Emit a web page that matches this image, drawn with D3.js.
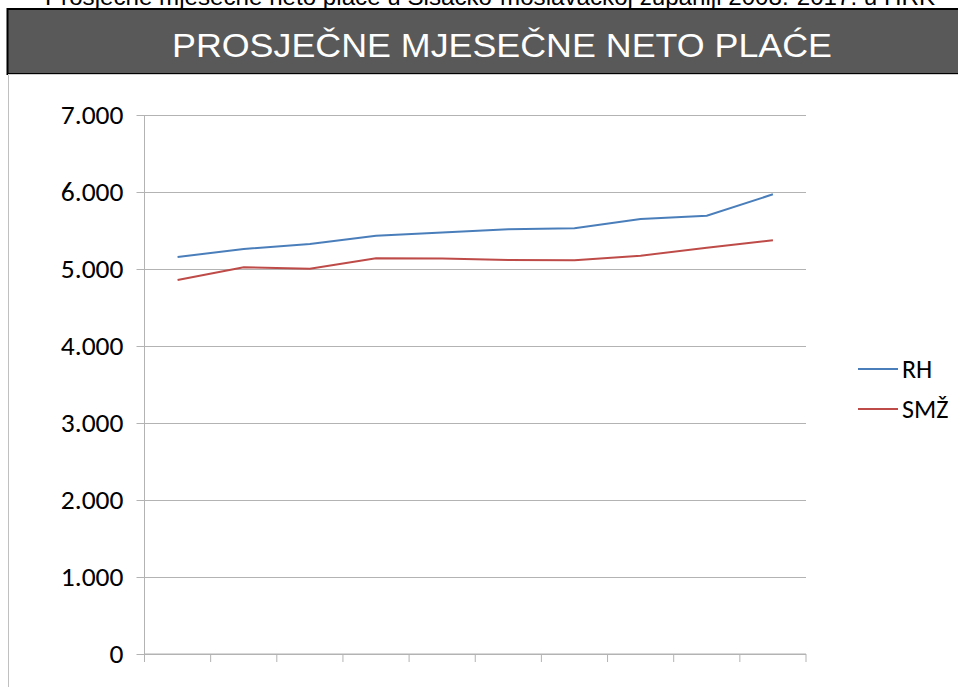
<!DOCTYPE html>
<html>
<head>
<meta charset="utf-8">
<script src="https://cdn.jsdelivr.net/npm/d3@7"></script>
<style>
  body { margin: 0; background: #fff; }
  svg { display: block; }
</style>
</head>
<body>
<div id="chart"></div>
<script>

// data
var years = ['2008', '2009', '2010', '2011', '2012', '2013', '2014', '2015', '2016', '2017'];
var rhValues = [5156, 5260, 5325, 5432, 5474, 5515, 5528, 5649, 5692, 5970];
var smzValues = [4857, 5022, 5004, 5139, 5137, 5117, 5113, 5173, 5277, 5372];
var seriesNames = ['RH', 'SMŽ'];
var yTicks = [0, 1000, 2000, 3000, 4000, 5000, 6000, 7000];

var attrs = {
  width: 958,
  height: 687,
  plotLeft: 144.5,
  plotRight: 806,
  plotTop: 115,
  plotBottom: 654,
  gridColor: '#b3b3b3',
  colors: ['#4a7ebb', '#be4b48'],
  labelFont: "Calibri, Carlito, 'Open Sans', sans-serif"
};

var svg = d3.select('#chart').append('svg')
  .attr('width', attrs.width)
  .attr('height', attrs.height);

// caption at the very top (cut off by the edge, as in the original)
svg.append('text')
  .attr('x', 490).attr('y', 5)
  .attr('text-anchor', 'middle')
  .attr('font-family', "'Liberation Sans', Arial, sans-serif")
  .attr('font-size', 24)
  .attr('fill', '#000')
  .attr('textLength', 890)
  .attr('lengthAdjust', 'spacingAndGlyphs')
  .text('Prosječne mjesečne neto plaće u Sisačko-moslavačkoj županiji 2008.-2017. u HRK');

// dark title banner
svg.append('rect')
  .attr('x', 7.5).attr('y', 9)
  .attr('width', attrs.width).attr('height', 65)
  .attr('fill', '#595959')
  .attr('stroke', '#000').attr('stroke-width', 2);

svg.append('text')
  .attr('x', 502).attr('y', 57)
  .attr('text-anchor', 'middle')
  .attr('font-family', "'Liberation Sans', Arial, sans-serif")
  .attr('font-size', 34)
  .attr('fill', '#fff')
  .attr('textLength', 660)
  .attr('lengthAdjust', 'spacingAndGlyphs')
  .text('PROSJEČNE MJESEČNE NETO PLAĆE');

// frame of the chart below the banner
svg.append('line')
  .attr('x1', 8.5).attr('x2', 8.5).attr('y1', 75).attr('y2', attrs.height)
  .attr('stroke', '#c0c0c0');
svg.append('line')
  .attr('x1', 8).attr('x2', attrs.width).attr('y1', 74.5).attr('y2', 74.5)
  .attr('stroke', '#d0d0d0');

// scales
var x = d3.scaleBand()
  .domain(years)
  .range([attrs.plotLeft, attrs.plotRight]);

var y = d3.scaleLinear()
  .domain([0, 7000])
  .range([attrs.plotBottom, attrs.plotTop]);

// gridlines + y axis
var yAxis = d3.axisLeft(y)
  .tickValues(yTicks)
  .tickSize(attrs.plotRight - attrs.plotLeft + 8)
  .tickPadding(13)
  .tickFormat(function (d) { return d === 0 ? '0' : d3.format(',')(d).replace(/,/g, '.'); });

var yG = svg.append('g')
  .attr('transform', 'translate(' + attrs.plotRight + ',0)')
  .call(yAxis);
yG.select('.domain').remove();
yG.selectAll('.tick line').attr('stroke', attrs.gridColor);
yG.selectAll('.tick text')
  .attr('font-family', attrs.labelFont)
  .attr('font-size', 27.5)
  .attr('fill', '#000');

// vertical axis line
svg.append('line')
  .attr('x1', attrs.plotLeft).attr('x2', attrs.plotLeft)
  .attr('y1', attrs.plotTop).attr('y2', attrs.plotBottom + 8)
  .attr('stroke', attrs.gridColor);

// x axis with tick marks between categories, no labels
var xAxis = d3.axisBottom(x).tickSize(8).tickFormat('');
var xG = svg.append('g')
  .attr('transform', 'translate(0,' + attrs.plotBottom + ')')
  .call(xAxis);
xG.selectAll('.tick').remove();
xG.select('.domain').attr('stroke', attrs.gridColor).attr('d',
  'M' + attrs.plotLeft + ',0H' + attrs.plotRight);
xG.selectAll('.sep')
  .data(years)
  .enter().append('line')
  .attr('class', 'sep')
  .attr('x1', function (d) { return x(d) + x.bandwidth(); })
  .attr('x2', function (d) { return x(d) + x.bandwidth(); })
  .attr('y1', 0).attr('y2', 8)
  .attr('stroke', attrs.gridColor);

// lines
var line = d3.line()
  .x(function (d, i) { return x(years[i]) + x.bandwidth() / 2; })
  .y(function (d) { return y(d); });

[rhValues, smzValues].forEach(function (vals, i) {
  svg.append('path')
    .datum(vals)
    .attr('fill', 'none')
    .attr('stroke', attrs.colors[i])
    .attr('stroke-width', 2)
    .attr('d', line);
});

// legend
var legend = svg.append('g').selectAll('g')
  .data(seriesNames)
  .enter().append('g')
  .attr('transform', function (d, i) { return 'translate(858,' + (369 + i * 40) + ')'; });

legend.append('line')
  .attr('x1', 0).attr('x2', 40)
  .attr('stroke', function (d, i) { return attrs.colors[i]; })
  .attr('stroke-width', 2);

legend.append('text')
  .attr('x', 44).attr('y', 0)
  .attr('dy', '0.35em')
  .attr('font-family', attrs.labelFont)
  .attr('font-size', 26)
  .attr('fill', '#000')
  .text(function (d) { return d; });

</script>
</body>
</html>
